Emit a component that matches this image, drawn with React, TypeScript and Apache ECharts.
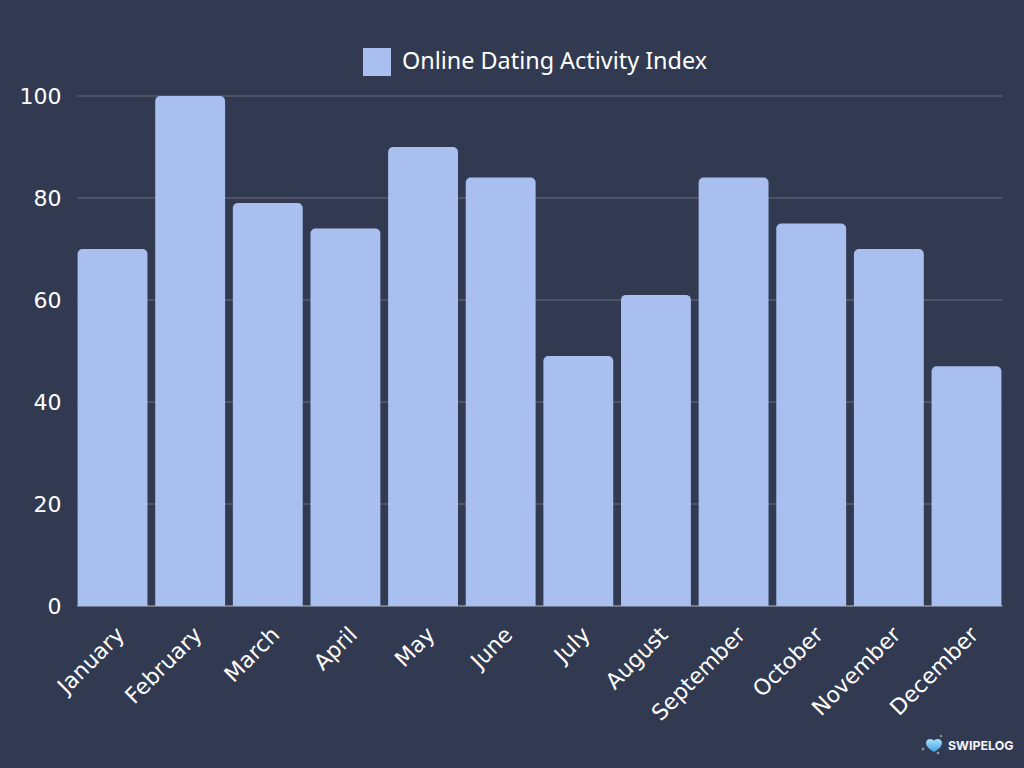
import React, { useEffect, useRef } from "react";
import * as echarts from "echarts";

const categories = ["January","February","March","April","May","June","July","August","September","October","November","December"];
const activityIndex = [70,100,79,74,90,84,49,61,84,75,70,47];
const yTicks = { min: 0, max: 100, interval: 20 };
const seriesName = "Online Dating Activity Index";
const logoText = "SWIPELOG";
const heartPath = "M10 18 C4 14 0 10 0 5.5 C0 2 2.5 0 5.5 0 C7.5 0 9 1 10 2.5 C11 1 12.5 0 14.5 0 C17.5 0 20 2 20 5.5 C20 10 16 14 10 18 Z";
const labelFont = "DejaVu Sans";

export default function App() {
  const ref = useRef<HTMLDivElement>(null);
  useEffect(() => {
    echarts.graphic.registerShape("heartLogo", echarts.graphic.extendPath(heartPath, {}) as any);
    const chart = echarts.init(ref.current!, null, { renderer: "svg" });
    chart.setOption({
      animation: false,
      backgroundColor: "#323a52",
      textStyle: { fontFamily: "Noto Sans" },
      grid: [
        { left: 77.5, right: 22, top: 96, bottom: 162 },
        { left: 73.7, right: 18.7, top: 96, bottom: 162 },
      ],
      legend: {
        show: true, top: 43, left: 358, itemWidth: 28, itemHeight: 28,
        icon: "rect",
        formatter: (name: string) => `{a|${name}}`,
        textStyle: {
          color: "#ffffff", fontSize: 23.4, fontFamily: "Noto Sans",
          rich: { a: { color: "#ffffff", fontSize: 23.4, fontFamily: "Noto Sans", padding: [0, 0, 4, 6] } },
        },
        data: [seriesName],
      },
      xAxis: [
        {
          type: "category", gridIndex: 0, data: categories,
          axisTick: { show: false }, axisLabel: { show: false },
          axisLine: { show: true, lineStyle: { color: "#7f869c", width: 1.5 } },
        },
        {
          type: "category", gridIndex: 1, data: categories,
          axisTick: { show: false }, axisLine: { show: false },
          axisLabel: { color: "#ffffff", fontSize: 22, rotate: 45, interval: 0, margin: 17, verticalAlign: "top", fontFamily: labelFont },
        },
      ],
      yAxis: [
        {
          type: "value", gridIndex: 0, ...yTicks,
          axisLine: { show: false }, axisTick: { show: false },
          splitLine: { lineStyle: { color: "#4d5468", width: 2 } },
          axisLabel: { color: "#ffffff", fontSize: 22, margin: 16, fontFamily: labelFont },
        },
        {
          type: "value", gridIndex: 1, ...yTicks, show: false,
          splitLine: { show: false },
        },
      ],
      series: [{
        name: seriesName, type: "bar", xAxisIndex: 1, yAxisIndex: 1, data: activityIndex, barWidth: "90%",
        itemStyle: { color: "#a9bff0", borderRadius: [5, 5, 0, 0] },
      }],
      graphic: [
        { type: "heartLogo", x: 926, y: 739, scaleX: 0.8, scaleY: 0.72, style: {
          fill: new echarts.graphic.LinearGradient(0, 0, 0, 1, [
            { offset: 0, color: "#a9e2f8" }, { offset: 1, color: "#3f9fe6" },
          ]) } },
        { type: "circle", shape: { cx: 941, cy: 736, r: 1.2 }, style: { fill: "#8d97ad" } },
        { type: "circle", shape: { cx: 923, cy: 749, r: 1.3 }, style: { fill: "#8d97ad" } },
        { type: "circle", shape: { cx: 938, cy: 753, r: 1.3 }, style: { fill: "#8d97ad" } },
        { type: "text", x: 948, y: 739, style: { text: logoText, fill: "#f4f5f8", font: "bold 12.4px Inter" } },
      ],
    });
    return () => chart.dispose();
  }, []);
  return <div ref={ref} style={{ position: "absolute", left: 0, top: 0, width: 1024, height: 768 }} />;
}
